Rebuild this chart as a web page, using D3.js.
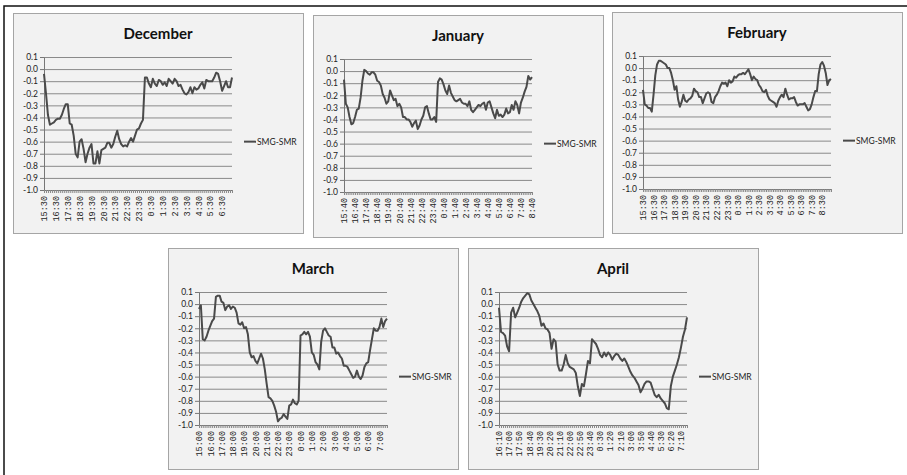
<!DOCTYPE html>
<html>
<head>
<meta charset="utf-8">
<script src="https://cdn.jsdelivr.net/npm/d3@7"></script>
<style>
  body { margin: 0; background: #fff; }
</style>
</head>
<body>
<div id="chart"></div>
<script>
// SMG-SMR values, one point every 10 minutes
const decValues = [-0.04, -0.20, -0.38, -0.46, -0.45, -0.44, -0.42, -0.41, -0.41, -0.38,
  -0.33, -0.29, -0.29, -0.45, -0.46, -0.55, -0.70, -0.73, -0.60, -0.58,
  -0.66, -0.77, -0.70, -0.65, -0.62, -0.78, -0.78, -0.68, -0.78, -0.67,
  -0.66, -0.65, -0.61, -0.61, -0.65, -0.62, -0.56, -0.51, -0.58, -0.62,
  -0.64, -0.63, -0.64, -0.60, -0.57, -0.60, -0.55, -0.50, -0.49, -0.45,
  -0.42, -0.07, -0.07, -0.12, -0.15, -0.08, -0.12, -0.14, -0.09, -0.10,
  -0.13, -0.11, -0.14, -0.08, -0.10, -0.12, -0.08, -0.10, -0.14, -0.13,
  -0.17, -0.20, -0.21, -0.19, -0.15, -0.20, -0.15, -0.17, -0.16, -0.13,
  -0.11, -0.16, -0.09, -0.10, -0.10, -0.10, -0.07, -0.03, -0.04, -0.10,
  -0.18, -0.14, -0.10, -0.15, -0.15, -0.07]

const janValues = [-0.07, -0.27, -0.30, -0.38, -0.44, -0.43, -0.38, -0.32, -0.31, -0.22,
  -0.08, 0.01, 0.00, -0.02, -0.03, -0.01, -0.01, -0.03, -0.08, -0.09,
  -0.12, -0.19, -0.22, -0.27, -0.25, -0.16, -0.20, -0.24, -0.23, -0.29,
  -0.27, -0.30, -0.38, -0.38, -0.40, -0.40, -0.42, -0.46, -0.43, -0.41,
  -0.48, -0.45, -0.40, -0.37, -0.30, -0.29, -0.35, -0.40, -0.40, -0.38,
  -0.42, -0.09, -0.06, -0.07, -0.11, -0.16, -0.19, -0.12, -0.18, -0.21,
  -0.24, -0.25, -0.24, -0.23, -0.26, -0.27, -0.27, -0.29, -0.25, -0.32,
  -0.34, -0.32, -0.30, -0.28, -0.29, -0.27, -0.26, -0.32, -0.26, -0.25,
  -0.30, -0.35, -0.39, -0.32, -0.37, -0.36, -0.38, -0.36, -0.31, -0.35,
  -0.34, -0.28, -0.32, -0.25, -0.28, -0.35, -0.26, -0.22, -0.17, -0.13,
  -0.04, -0.07, -0.05]

const febValues = [-0.18, -0.30, -0.31, -0.33, -0.33, -0.36, -0.22, -0.06, 0.03, 0.06,
  0.06, 0.05, 0.04, 0.03, 0.00, 0.00, -0.04, -0.10, -0.18, -0.15,
  -0.26, -0.32, -0.28, -0.22, -0.27, -0.28, -0.26, -0.25, -0.23, -0.17,
  -0.19, -0.20, -0.24, -0.24, -0.29, -0.25, -0.21, -0.20, -0.21, -0.28,
  -0.29, -0.24, -0.22, -0.19, -0.15, -0.12, -0.13, -0.12, -0.15, -0.10,
  -0.12, -0.11, -0.07, -0.08, -0.06, -0.05, -0.05, -0.04, -0.05, -0.03,
  -0.01, -0.05, -0.10, -0.07, -0.09, -0.10, -0.14, -0.16, -0.19, -0.20,
  -0.18, -0.23, -0.26, -0.27, -0.28, -0.29, -0.32, -0.27, -0.24, -0.22,
  -0.24, -0.17, -0.22, -0.26, -0.25, -0.25, -0.24, -0.28, -0.31, -0.30,
  -0.30, -0.30, -0.29, -0.32, -0.35, -0.34, -0.30, -0.24, -0.19, -0.19,
  -0.05, 0.03, 0.05, 0.02, -0.04, -0.14, -0.10, -0.09]

const marValues = [-0.04, -0.01, -0.29, -0.30, -0.27, -0.22, -0.18, -0.14, -0.12, 0.06,
  0.07, 0.07, 0.02, 0.01, -0.05, -0.02, -0.01, -0.04, -0.02, -0.03,
  -0.07, -0.16, -0.17, -0.15, -0.20, -0.19, -0.25, -0.40, -0.44, -0.43,
  -0.47, -0.49, -0.45, -0.41, -0.45, -0.54, -0.66, -0.77, -0.78, -0.80,
  -0.84, -0.89, -0.97, -0.95, -0.94, -0.91, -0.93, -0.95, -0.84, -0.83,
  -0.79, -0.82, -0.83, -0.80, -0.26, -0.25, -0.23, -0.25, -0.23, -0.27,
  -0.40, -0.42, -0.48, -0.50, -0.54, -0.31, -0.22, -0.20, -0.23, -0.26,
  -0.27, -0.36, -0.36, -0.41, -0.40, -0.43, -0.45, -0.51, -0.51, -0.52,
  -0.55, -0.58, -0.61, -0.60, -0.55, -0.60, -0.62, -0.59, -0.52, -0.49,
  -0.48, -0.38, -0.29, -0.20, -0.22, -0.22, -0.19, -0.12, -0.19, -0.14,
  -0.12]

const aprValues = [-0.03, -0.23, -0.24, -0.26, -0.35, -0.39, -0.07, -0.03, -0.11, -0.07,
  -0.03, 0.02, 0.05, 0.07, 0.09, 0.08, 0.03, 0.00, -0.03, -0.06,
  -0.10, -0.18, -0.16, -0.20, -0.21, -0.24, -0.37, -0.29, -0.31, -0.50,
  -0.55, -0.55, -0.50, -0.42, -0.49, -0.52, -0.53, -0.54, -0.57, -0.68,
  -0.76, -0.66, -0.68, -0.58, -0.47, -0.49, -0.29, -0.31, -0.33, -0.37,
  -0.42, -0.44, -0.40, -0.43, -0.40, -0.42, -0.46, -0.43, -0.41, -0.42,
  -0.45, -0.47, -0.45, -0.48, -0.52, -0.56, -0.59, -0.61, -0.64, -0.67,
  -0.73, -0.70, -0.66, -0.64, -0.64, -0.65, -0.70, -0.75, -0.77, -0.75,
  -0.78, -0.80, -0.82, -0.86, -0.87, -0.68, -0.60, -0.55, -0.50, -0.44,
  -0.36, -0.27, -0.21, -0.11]

// labelled categories (every hour, April every 50 minutes)
const decTicks = ['15:30', '16:30', '17:30', '18:30', '19:30', '20:30', '21:30', '22:30',
  '23:30', '0:30', '1:30', '2:30', '3:30', '4:30', '5:30', '6:30']
const janTicks = ['15:40', '16:40', '17:40', '18:40', '19:40', '20:40', '21:40', '22:40',
  '23:40', '0:40', '1:40', '2:40', '3:40', '4:40', '5:40', '6:40', '7:40', '8:40']
const febTicks = ['15:30', '16:30', '17:30', '18:30', '19:30', '20:30', '21:30', '22:30',
  '23:30', '0:30', '1:30', '2:30', '3:30', '4:30', '5:30', '6:30', '7:30', '8:30']
const marTicks = ['15:00', '16:00', '17:00', '18:00', '19:00', '20:00', '21:00', '22:00',
  '23:00', '0:00', '1:00', '2:00', '3:00', '4:00', '5:00', '6:00', '7:00']
const aprTicks = ['16:10', '17:00', '17:50', '18:40', '19:30', '20:20', '21:10', '22:00',
  '22:50', '23:40', '0:30', '1:20', '2:10', '3:00', '3:50', '4:40', '5:30', '6:20', '7:10']

const yTicks = [0.1, 0.0, -0.1, -0.2, -0.3, -0.4, -0.5, -0.6, -0.7, -0.8, -0.9, -1.0]
const seriesName = 'SMG-SMR'

let width = 907
let height = 475

let svg = d3.select('#chart')
  .append('svg')
  .attr('width', width)
  .attr('height', height)

// frame of the page
svg.append('path')
  .attr('d', 'M4,475V6H907')
  .attr('fill', 'none')
  .attr('stroke', '#111')
  .attr('stroke-width', 1.5)

let panels = [
  { title: 'December', values: decValues, ticks: decTicks, every: 6, x: 13, y: 13, h: 220 },
  { title: 'January', values: janValues, ticks: janTicks, every: 6, x: 313, y: 15, h: 222 },
  { title: 'February', values: febValues, ticks: febTicks, every: 6, x: 612, y: 12, h: 221 },
  { title: 'March', values: marValues, ticks: marTicks, every: 6, x: 168, y: 248, h: 221 },
  { title: 'April', values: aprValues, ticks: aprTicks, every: 5, x: 468, y: 248, h: 221 }
]

let pw = 290
let plotLeft = 31
let plotRight = 219
let plotTop = 44
let plotBottom = 177

panels.forEach(function (p) {
  let g = svg.append('g')
    .attr('transform', 'translate(' + p.x + ',' + p.y + ')')

  g.append('rect')
    .attr('x', 0.5)
    .attr('y', 0.5)
    .attr('width', pw)
    .attr('height', p.h)
    .attr('fill', '#f2f2f2')
    .attr('stroke', '#a5a5a5')

  g.append('text')
    .attr('x', 145)
    .attr('y', 26)
    .attr('text-anchor', 'middle')
    .style('font-family', 'Lato, "Open Sans", sans-serif')
    .style('font-weight', 'bold')
    .style('font-size', '15px')
    .attr('fill', '#111')
    .text(p.title)

  let x = d3.scaleLinear()
    .domain([0, p.values.length - 1])
    .range([plotLeft, plotRight])

  let y = d3.scaleLinear()
    .domain([-1, 0.1])
    .range([plotBottom, plotTop])

  // gridlines
  g.append('g')
    .attr('transform', 'translate(' + plotLeft + ',0)')
    .call(d3.axisLeft(y).tickValues(yTicks).tickSize(-(plotRight - plotLeft)).tickFormat(''))
    .call(function (s) { s.select('.domain').remove() })
    .selectAll('line')
    .attr('stroke', '#8a8a8a')

  // y axis
  let ya = g.append('g')
    .attr('transform', 'translate(' + plotLeft + ',0)')
    .call(d3.axisLeft(y).tickValues(yTicks).tickSize(4).tickSizeOuter(0).tickPadding(2)
      .tickFormat(function (d) { return d.toFixed(1) }))
  ya.select('.domain').attr('stroke', '#777')
  ya.selectAll('line').attr('stroke', '#777')
  ya.selectAll('text')
    .style('font-family', 'Lato, sans-serif')
    .style('font-size', '8.5px')
    .attr('fill', '#222')

  // x axis
  let xa = g.append('g')
    .attr('transform', 'translate(0,' + plotBottom + ')')
    .call(d3.axisBottom(x).tickValues(d3.range(p.values.length)).tickSize(3).tickSizeOuter(0)
      .tickFormat(function (d) { return d % p.every === 0 ? p.ticks[d / p.every] || '' : '' }))
  xa.select('.domain').attr('stroke', '#777')
  xa.selectAll('line').attr('stroke', '#888')
  xa.selectAll('text')
    .attr('transform', 'rotate(-90)')
    .attr('x', -6)
    .attr('y', 0)
    .attr('dy', '0.32em')
    .attr('text-anchor', 'end')
    .style('font-family', '"Liberation Mono", monospace')
    .style('font-size', '8.5px')
    .attr('fill', '#222')

  let line = d3.line()
    .x(function (d, i) { return x(i) })
    .y(function (d) { return y(d) })

  g.append('path')
    .datum(p.values)
    .attr('d', line)
    .attr('fill', 'none')
    .attr('stroke', '#4a4a4a')
    .attr('stroke-width', 2)
    .attr('stroke-linejoin', 'round')

  // legend
  let ly = y(-0.6)
  g.append('line')
    .attr('x1', 231)
    .attr('x2', 243)
    .attr('y1', ly)
    .attr('y2', ly)
    .attr('stroke', '#4a4a4a')
    .attr('stroke-width', 2)
  g.append('text')
    .attr('x', 244)
    .attr('y', ly)
    .attr('dy', '0.35em')
    .style('font-family', 'Lato, sans-serif')
    .style('font-size', '8.5px')
    .attr('fill', '#222')
    .text(seriesName)
})
</script>
</body>
</html>
